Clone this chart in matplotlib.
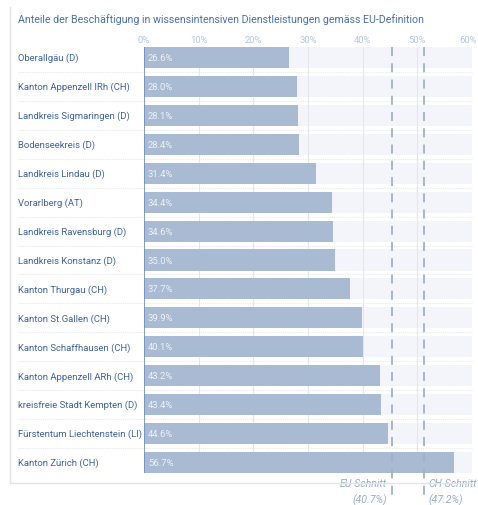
import matplotlib
matplotlib.use("Agg")
import matplotlib.pyplot as plt
from matplotlib.lines import Line2D
import matplotlib.transforms as mtransforms

plt.rcParams['font.family'] = ['Roboto', 'DejaVu Sans']

title = "Anteile der Beschäftigung in wissensintensiven Dienstleistungen gemäss EU-Definition"
categories = [
    "Oberallgäu (D)", "Kanton Appenzell IRh (CH)", "Landkreis Sigmaringen (D)",
    "Bodenseekreis (D)", "Landkreis Lindau (D)", "Vorarlberg (AT)",
    "Landkreis Ravensburg (D)", "Landkreis Konstanz (D)", "Kanton Thurgau (CH)",
    "Kanton St.Gallen (CH)", "Kanton Schaffhausen (CH)", "Kanton Appenzell ARh (CH)",
    "kreisfreie Stadt Kempten (D)", "Fürstentum Liechtenstein (LI)", "Kanton Zürich (CH)",
]
values = [26.6, 28.0, 28.1, 28.4, 31.4, 34.4, 34.6, 35.0, 37.7, 39.9, 40.1, 43.2, 43.4, 44.6, 56.7]
ticks = [0, 10, 20, 30, 40, 50, 60]
tick_labels = ["0%", "10%", "20%", "30%", "40%", "50%", "60%"]
ref_names = ["EU-Schnitt", "CH-Schnitt"]
ref_values = [40.7, 47.2]
ref_positions = [45.3, 51.2]   # where the dashed lines are drawn in the picture

W, H = 478, 506
fig = plt.figure(figsize=(W / 100, H / 100), dpi=100)

def fx(px):
    return px / W

def fy(py):
    return 1 - py / H

# panel border (left and bottom)
fig.add_artist(Line2D([fx(10), fx(10)], [fy(8), fy(484)], color="#e2e4e8", lw=1.0))
fig.add_artist(Line2D([fx(10), fx(472)], [fy(484), fy(484)], color="#e2e4e8", lw=1.0))

fig.text(fx(18), fy(20), title, color="#4a6ea8", fontsize=7.7, va="center", ha="left")

ax_left, ax_right = 144, 472
ax_top, ax_bot = 48, 474
ax = fig.add_axes([fx(ax_left), fy(ax_bot), fx(ax_right - ax_left), (ax_bot - ax_top) / H])
n = len(categories)
bh = 0.726
ax.set_xlim(0, 60)
ax.set_ylim(n - 1 + bh / 2, -bh / 2)
for s in ax.spines.values():
    s.set_visible(False)
ax.set_xticks([])
ax.set_yticks([])
ax.patch.set_alpha(0)

ypos = list(range(n))
# background bands
ax.barh(ypos, [60] * n, height=bh, left=0, color="#f3f5fa", zorder=0)
# gridlines
for t in ticks[1:]:
    ax.vlines(t, -bh / 2, n - 1 + bh / 2, color="#e1e6ef", lw=0.8, zorder=1)
# bars
ax.barh(ypos, values, height=bh, color="#a9bad3", zorder=2)
# axis line
ax.vlines(0, -bh / 2, n - 1 + bh / 2, color="#6f8dbd", lw=1.2, zorder=3)

px_per_unit = (ax_right - ax_left) / 60.0
xl_label = (18 - ax_left) / px_per_unit
for i, (c, v) in enumerate(zip(categories, values)):
    ax.text(xl_label, i, c, color="#3f62a0", fontsize=6.8, va="center", ha="left", clip_on=False)
    ax.text(4 / px_per_unit, i, f"{v:.1f}%", color="#eef2f8", fontsize=6.8, va="center", ha="left", zorder=4)
    if i < n - 1:
        ax.plot([xl_label, 60], [i + 0.5, i + 0.5], color="#e6e9ef", lw=0.8,
                ls=(0, (1, 1)), clip_on=False, zorder=1)

# tick labels
for t, lab in zip(ticks, tick_labels):
    shift = -4 / px_per_unit if t == ticks[-1] else 0
    ax.text(t + shift, -bh / 2 - 8 / 28.93, lab, color="#b7c5dc", fontsize=6.8,
            ha="center", va="center", clip_on=False)

# reference lines
trans = mtransforms.blended_transform_factory(ax.transData, fig.transFigure)
for name, val, pos, side in zip(ref_names, ref_values, ref_positions, ["left", "right"]):
    ax.plot([pos, pos], [fy(48), fy(503)], transform=trans, color="#9fb1cd", lw=1.3,
            ls=(0, (5, 4)), clip_on=False, zorder=5)
    off = -5 / px_per_unit if side == "left" else 5 / px_per_unit
    ha = "right" if side == "left" else "left"
    ax.text(pos + off, fy(484), name, transform=trans, color="#9aaccb", fontsize=7.6,
            style="italic", ha=ha, va="center", clip_on=False)
    ax.text(pos + off, fy(500), f"({val:.1f}%)", transform=trans, color="#9aaccb", fontsize=7.6,
            style="italic", ha=ha, va="center", clip_on=False)

fig.savefig("out.png", dpi=100, facecolor="white")
